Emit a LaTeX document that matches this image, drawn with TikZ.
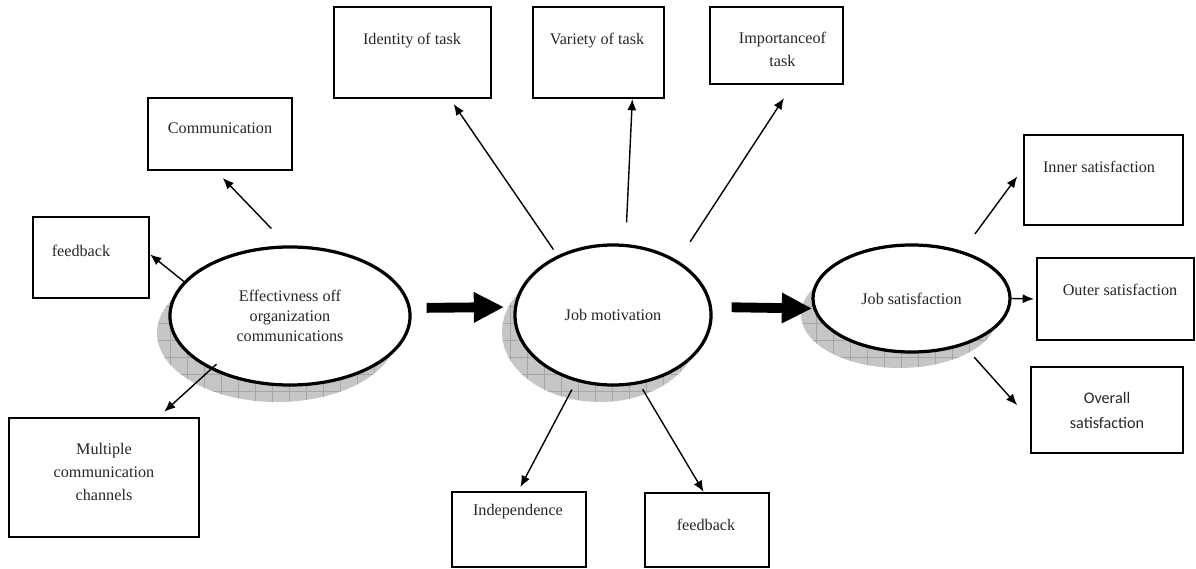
\documentclass[tikz,border=0pt]{standalone}
\usepackage{fontspec}
\setmainfont{Liberation Serif}
\newfontfamily\calibrifont{Carlito}
\usetikzlibrary{shapes.geometric,arrows.meta}
\begin{document}
\begin{tikzpicture}[x=0.025cm, y=-0.025cm, font=\fontsize{11.5}{14}\selectfont, text=black!85,
        box/.style={draw=black, line width=1.5pt, rectangle, inner sep=0pt},
        oval/.style={draw=black, line width=2.3pt, ellipse, fill=white, inner sep=0pt, align=center},
        arr/.style={draw=black, line width=1pt, -{Latex[length=8pt, width=6.5pt]}},
        bigarr/.style={draw=black, line width=7pt, -{Triangle[length=21pt, width=22pt, line width=0pt]}}]
        \useasboundingbox (0, 0) rectangle (1196, 569);
        \foreach \cx/\cy/\rx/\ry in {277/333/3/1.725, 600/332/2.45/1.75, 899.5/314.5/2.4625/1.3375} {
            \begin{scope}
                \clip (\cx, \cy) ellipse [x radius=\rx cm, y radius=\ry cm];
                \fill[gray!45] (\cx-130, \cy-90) rectangle (\cx+130, \cy+90);
                \draw[gray!70, line width=0.4pt, step=0.425cm] (\cx-130, \cy-90) grid (\cx+130, \cy+90);
            \end{scope}
        }
        \node[oval, minimum width=6cm, minimum height=3.45cm] (eff) at (290, 316) {Effectivness off\\organization\\communications};
        \node[oval, minimum width=4.9cm, minimum height=3.5cm] (job) at (613, 315) {Job motivation};
        \node[oval, minimum width=4.925cm, minimum height=2.675cm] (sat) at (911.5, 298.5) {Job satisfaction};
        \node[box, minimum width=3.6cm, minimum height=1.8cm] (com) at (220, 134) {};
        \node (comt) at (220, 128) {Communication};
        \node[box, minimum width=2.9cm, minimum height=2.025cm] (fbl) at (91, 257.5) {};
        \node (fblt) at (81, 251) {feedback};
        \node[box, minimum width=4.75cm, minimum height=2.975cm] (mult) at (104, 477.5) {};
        \node[align=center, font=\fontsize{11.5}{16.3}\selectfont] (multt) at (104, 472) {Multiple\\communication\\channels};
        \node[box, minimum width=3.925cm, minimum height=2.275cm] (idt) at (412.5, 52.5) {};
        \node (idtt) at (412, 41) {Identity of task};
        \node[box, minimum width=3.275cm, minimum height=2.275cm] (var) at (598.5, 52.5) {};
        \node (vart) at (597, 41) {Variety of task};
        \node[box, minimum width=3.325cm, minimum height=1.925cm] (imp) at (776.5, 45.5) {};
        \node[align=center, font=\fontsize{11.5}{16}\selectfont] (impt) at (782.5, 49.5) {Importanceof\\task};
        \node[box, minimum width=3.35cm, minimum height=1.875cm] (ind) at (519, 529.5) {};
        \node (indt) at (518, 512) {Independence};
        \node[box, minimum width=3.1cm, minimum height=1.85cm] (fbb) at (707, 530) {};
        \node (fbbt) at (706, 525) {feedback};
        \node[box, minimum width=3.975cm, minimum height=2.25cm] (inn) at (1103.5, 180) {};
        \node (innt) at (1099, 167) {Inner satisfaction};
        \node[box, minimum width=3.925cm, minimum height=2.05cm] (out) at (1115.5, 299) {};
        \node (outt) at (1120, 290) {Outer satisfaction};
        \node[box, minimum width=3.8cm, minimum height=2.15cm] (ovr) at (1107, 410) {};
        \node[align=center, font=\calibrifont\fontsize{11.5}{17.7}\selectfont] (ovrt) at (1107, 410.5) {Overall\\satisfaction};
        \draw[bigarr, shorten <=0.375cm, shorten >=0.25cm] ([yshift=0.2cm]eff.east) -- ([yshift=0.2cm]job.west);
        \draw[bigarr, shorten <=0.475cm] ([yshift=0.2cm]job.east) -- ([yshift=-0.25cm]sat.west);
        \draw[arr, shorten <=0.585cm, shorten >=0.24cm] (eff.92) -- (com.-96);
        \draw[arr] (eff.162) -- (fbl.3);
        \draw[arr, shorten <=-0.2cm, shorten >=0.19cm] (eff.-146) -- (mult.48);
        \draw[arr, shorten <=0.18cm, shorten >=0.15cm] (job.133) -- (idt.-51.6);
        \draw[arr, shorten <=0.54cm] (job.80) -- (var.-54.5);
        \draw[arr, shorten <=0.56cm, shorten >=0.39cm] (job.40.8) -- (imp.-68.7);
        \draw[arr, shorten <=0.225cm, shorten >=0.11cm] (job.-119.5) -- (ind.91.5);
        \draw[arr, shorten <=0.15cm] (job.-69) -- (fbb.95);
        \draw[arr, shorten <=0.53cm, shorten >=0.24cm] (sat.43.9) -- (inn.172.3);
        \draw[arr, shorten >=0.05cm] (sat.east) -- (out.west);
        \draw[arr, shorten <=0.39cm, shorten >=0.48cm] (sat.-42) -- (ovr.-173.2);
    \end{tikzpicture}
\end{document}
